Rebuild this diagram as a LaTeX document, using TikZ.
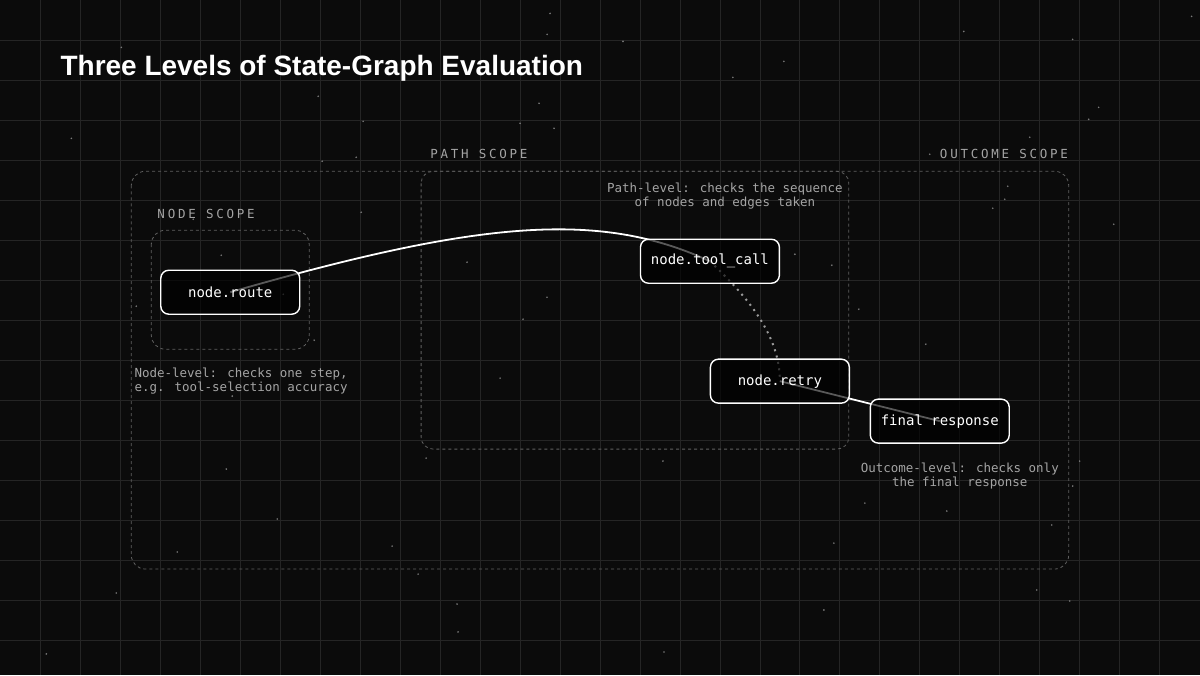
\documentclass[tikz,border=0pt]{standalone}
\usepackage{fontspec}
\newfontfamily\monofont{DejaVu Sans Mono}
\newfontfamily\scopefont[LetterSpace=22]{DejaVu Sans Mono}
\newfontfamily\titlefont{Liberation Sans}
\definecolor{bgcol}{HTML}{0B0B0B}
\definecolor{gridcol}{HTML}{252525}
\definecolor{scopecol}{HTML}{606060}
\definecolor{labelcol}{HTML}{A4A4A4}
\definecolor{dotcol}{HTML}{9A9A9A}
\definecolor{starcol}{HTML}{7A7A7A}
\tikzset{
  statenode/.style={draw=white, line width=1.4pt, rounded corners=8pt,
    fill=black, fill opacity=0.65, text opacity=1, text=white,
    font=\monofont\fontsize{14}{16}\selectfont,
    minimum width=139pt, minimum height=44pt, inner sep=0pt},
  scopebox/.style={draw=scopecol, line width=0.8pt, dash pattern=on 3pt off 3pt},
  scopelabel/.style={text=labelcol, font=\scopefont\fontsize{12.5}{14}\selectfont, inner sep=0pt},
  note/.style={text=labelcol, font=\monofont\fontsize{12.5}{14}\selectfont, inner sep=0pt},
  flow/.style={draw=white, line width=1.8pt},
  retryflow/.style={draw=dotcol, line width=2pt, dash pattern=on 2pt off 4.5pt},
  gridline/.style={draw=gridcol, line width=0.8pt},
}
\begin{document}
\begin{tikzpicture}[x=1pt,y=-1pt]
    % background and grid
    \fill[bgcol] (0,0) rectangle (1200,675);
    \foreach \gx in {40,80,...,1160}
        \draw[gridline] (\gx,0) -- (\gx,675);
    \foreach \gy in {40,80,...,640}
        \draw[gridline] (0,\gy) -- (1200,\gy);
    % scattered dots
    \foreach \sx/\sy in {71/138,121/47,318/96,363/121,520/123,539/103,547/34,550/13,554/128,
        623/41,784/61,733/77,964/31,1073/39,1192/16,1099/107,1089/119,1030/137,930/154,
        1008/186,1005/199,993/208,1114/224,795/254,832/265,859/309,926/344,
        356/157,322/161,193/219,361/212,221/255,467/262,283/294,136/306,314/340,523/319,
        547/297,500/378,232/396,226/469,277/519,177/552,392/546,418/574,116/593,457/604,
        458/632,46/654,664/652,663/461,426/458,865/503,947/511,834/543,824/610,1037/590,
        1070/601,1052/525,1080/461,1073/486}
        \fill[starcol] (\sx,\sy) circle (0.9);

    \node[anchor=base west, inner sep=0pt, text=white,
          font=\titlefont\bfseries\fontsize{28}{32}\selectfont] (title) at (60,75)
          {Three Levels of State-Graph Evaluation};

    % the three scopes
    \draw[scopebox, rounded corners=14pt] (131,171) rectangle (1069,569); %outcome
    \draw[scopebox, rounded corners=12pt] (421,171) rectangle (849,449); %path
    \draw[scopebox, rounded corners=14pt] (151,230) rectangle (309,349); %node

    \node[scopelabel, anchor=base west] (nodelbl) at (157,218) {NODE SCOPE};
    \node[scopelabel, anchor=base west] (pathlbl) at (430,158) {PATH SCOPE};
    \node[scopelabel, anchor=base west] (outlbl) at (940,158) {OUTCOME SCOPE};

    \node[note, align=left, anchor=west] (nodenote) at (134,381)
        {Node-level: checks one step,\\e.g. tool-selection accuracy};
    \node[note, align=center] (pathnote) at (725,196)
        {Path-level: checks the sequence\\of nodes and edges taken};
    \node[note, align=center] (outnote) at (960,476)
        {Outcome-level: checks only\\the final response};

    % state nodes
    \coordinate (route) at (230,292);
    \coordinate (tool) at (710,261);
    \coordinate (retry) at (780,381);
    \coordinate (final) at (940,421);

    \draw[flow] (route) .. controls (480,220) and (600,210) .. (tool);
    \draw[retryflow] (tool) .. controls (740,290) and (780,330) .. (retry);
    \draw[flow] (retry) -- (final);

    \node[statenode] (routebox) at (route) {node.route};
    \node[statenode] (toolbox) at (tool) {node.tool\_call};
    \node[statenode] (retrybox) at (retry) {node.retry};
    \node[statenode] (finalbox) at (final) {final response};
\end{tikzpicture}
\end{document}
